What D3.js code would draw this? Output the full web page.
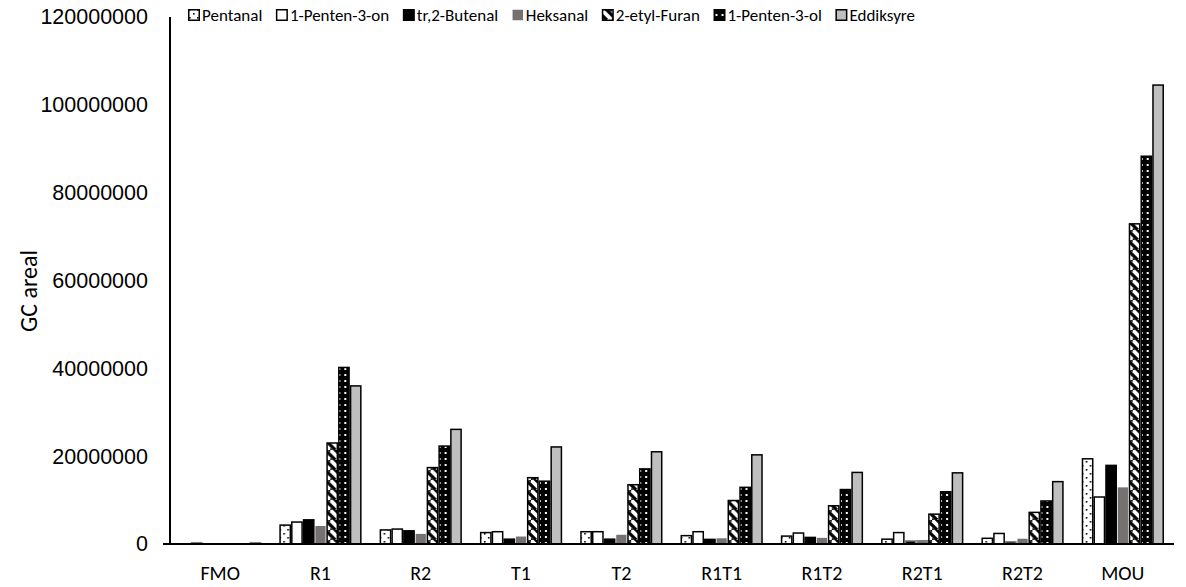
<!DOCTYPE html>
<html>
<head>
<meta charset="utf-8">
<script src="https://cdn.jsdelivr.net/npm/d3@7"></script>
<style>
  body { margin: 0; background: #fff; }
  svg { display: block; font-family: Carlito, "Open Sans", sans-serif; }
</style>
</head>
<body>
<svg width="1186" height="587"></svg>
<script>
const categories = ["FMO","R1","R2","T1","T2","R1T1","R1T2","R2T1","R2T2","MOU"];
const seriesNames = ["Pentanal","1-Penten-3-on","tr,2-Butenal","Heksanal","2-etyl-Furan","1-Penten-3-ol","Eddiksyre"];

// values per series, in millions
const pentanal   = [0.05, 4.3, 3.2, 2.6, 2.8, 1.9, 1.8, 1.1, 1.3, 19.4];
const pentenon   = [0.3, 5.0, 3.4, 2.8, 2.8, 2.8, 2.5, 2.6, 2.4, 10.7];
const butenal    = [0.05, 5.5, 3.0, 1.1, 1.1, 1.05, 1.5, 0.7, 0.5, 17.9];
const heksanal   = [0.05, 4.1, 2.3, 1.7, 2.1, 1.3, 1.4, 0.75, 1.2, 12.9];
const etylfuran  = [0.05, 23.0, 17.4, 15.1, 13.5, 9.9, 8.7, 6.8, 7.2, 72.9];
const pentenol   = [0.05, 40.2, 22.3, 14.3, 17.1, 12.9, 12.4, 11.9, 9.8, 88.3];
const eddiksyre  = [0.3, 36.0, 26.1, 22.1, 21.0, 20.3, 16.3, 16.2, 14.2, 104.5];
const yTicks = [0, 20000000, 40000000, 60000000, 80000000, 100000000, 120000000];

const seriesValues = [pentanal, pentenon, butenal, heksanal, etylfuran, pentenol, eddiksyre];

const svg = d3.select("svg");
const plotLeft = 170, plotRight = 1173, plotTop = 17, plotBottom = 544;

const defs = svg.append("defs");
// Pentanal: sparse black dots on white
const p1 = defs.append("pattern").attr("id","pat-0").attr("patternUnits","userSpaceOnUse")
  .attr("width",8).attr("height",8);
p1.append("rect").attr("width",8).attr("height",8).attr("fill","#fff");
p1.append("rect").attr("x",1).attr("y",1).attr("width",1.6).attr("height",1.6).attr("fill","#000");
p1.append("rect").attr("x",5).attr("y",5).attr("width",1.6).attr("height",1.6).attr("fill","#000");
// 2-etyl-Furan: wide downward diagonal
const p4 = defs.append("pattern").attr("id","pat-4").attr("patternUnits","userSpaceOnUse")
  .attr("width",10).attr("height",10);
p4.append("rect").attr("width",10).attr("height",10).attr("fill","#fff");
p4.append("path").attr("d","M-5,0 L5,10 M0,-5 L15,10 M5,-5 L15,5 M-5,5 L5,15")
  .attr("stroke","#000").attr("stroke-width",3.2);
// 1-Penten-3-ol: white dots on black
const p5 = defs.append("pattern").attr("id","pat-5").attr("patternUnits","userSpaceOnUse")
  .attr("width",6).attr("height",6);
p5.append("rect").attr("width",6).attr("height",6).attr("fill","#000");
p5.append("rect").attr("x",2).attr("y",2).attr("width",2).attr("height",2).attr("fill","#fff");

const fills = ["url(#pat-0)","#fff","#000","#767171","url(#pat-4)","url(#pat-5)","#bfbfbf"];
const strokes = ["#000","#000","#000","none","#000","#000","#000"];

const x = d3.scaleBand().domain(categories).range([plotLeft, plotRight]);
const xs = d3.scaleBand().domain(d3.range(seriesNames.length))
  .range([x.bandwidth()*0.09, x.bandwidth()*0.91]);
const y = d3.scaleLinear().domain([0, 120000000]).range([plotBottom, plotTop]);

// bars
const groups = svg.append("g").selectAll("g")
  .data(categories)
  .enter().append("g")
  .attr("transform", d => `translate(${x(d)},0)`);

groups.selectAll("rect")
  .data((c, ci) => seriesValues.map((vals, si) => ({si, v: vals[ci]*1e6})))
  .enter().append("rect")
  .attr("x", d => xs(d.si) + 0.75)
  .attr("width", xs.bandwidth() - 1.5)
  .attr("y", d => y(d.v))
  .attr("height", d => plotBottom - y(d.v))
  .attr("fill", d => fills[d.si])
  .attr("stroke", d => d.v < 1e6 ? (d.v >= 2e5 ? "#808080" : "none") : strokes[d.si])
  .attr("stroke-width", 1.5);

// y axis
const yAxis = svg.append("g").attr("transform",`translate(${plotLeft},0)`)
  .call(d3.axisLeft(y).tickValues(yTicks).tickFormat(d3.format("d")).tickSize(7).tickPadding(15));
yAxis.select(".domain").attr("stroke","#000").attr("stroke-width",2).attr("d",`M0,${plotTop}V${plotBottom}`);
yAxis.selectAll(".tick line").remove();
yAxis.selectAll("text").attr("font-size",21.5).attr("font-family","inherit").attr("fill","#000");

// x axis line
svg.append("line").attr("x1",plotLeft-7).attr("x2",plotRight+1).attr("y1",plotBottom).attr("y2",plotBottom)
  .attr("stroke","#000").attr("stroke-width",2);

svg.append("g").selectAll("text")
  .data(categories).enter().append("text")
  .attr("x", d => x(d) + x.bandwidth()/2)
  .attr("y", 580)
  .attr("text-anchor","middle")
  .attr("font-size",20)
  .text(d => d);

// y label
svg.append("text")
  .attr("transform","translate(37,291) rotate(-90)")
  .attr("text-anchor","middle")
  .attr("font-size",24)
  .text("GC areal");

// legend, laid out in a row from x=188 to x=915
const legend = svg.append("g");
const items = legend.selectAll("g").data(seriesNames).enter().append("g");
items.append("rect").attr("x",0.75).attr("y",9.75).attr("width",10.5).attr("height",10.5)
  .attr("fill",(d,i)=>fills[i]).attr("stroke",(d,i)=>strokes[i]).attr("stroke-width",1.5);
items.append("text").attr("x",14).attr("y",15).attr("dy","0.35em")
  .attr("font-size",17).text(d => d);
const widths = items.select("text").nodes().map(n => 14 + n.getComputedTextLength());
const gap = (915 - 188 - d3.sum(widths)) / (widths.length - 1);
let lx = 188;
items.each(function(d, i) {
  d3.select(this).attr("transform", `translate(${lx},0)`);
  lx += widths[i] + gap;
});
</script>
</body>
</html>
